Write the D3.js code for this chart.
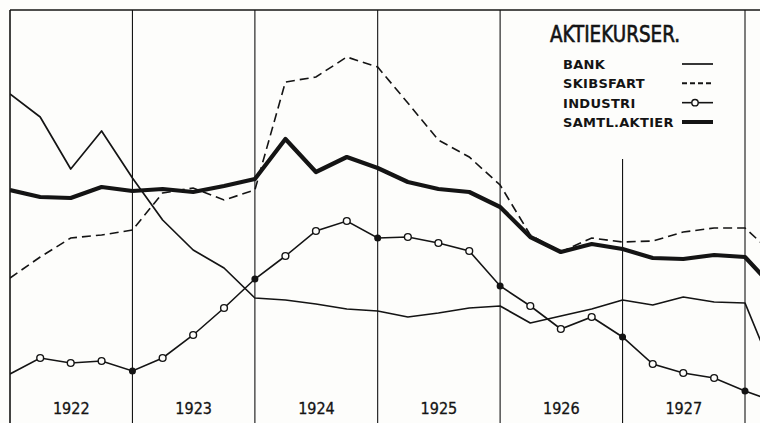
<!DOCTYPE html>
<html lang="da">
  <head>
    <meta charset="utf-8">
    <title>Aktiekurser</title>
    <script type="text/javascript" src="https://cdn.jsdelivr.net/npm/d3@7"></script>
    <style>
      body { margin: 0; background: #fdfdfb; }
      svg { display: block; }
    </style>
  </head>
  <body>
    <script type="text/javascript">
      var w = 760;
      var h = 423;

      // kvartaler, jan 1922 - apr 1928
      var quarters = ["1922-01", "1922-04", "1922-07", "1922-10",
                      "1923-01", "1923-04", "1923-07", "1923-10",
                      "1924-01", "1924-04", "1924-07", "1924-10",
                      "1925-01", "1925-04", "1925-07", "1925-10",
                      "1926-01", "1926-04", "1926-07", "1926-10",
                      "1927-01", "1927-04", "1927-07", "1927-10",
                      "1928-01", "1928-04"];
      var years = ["1922", "1923", "1924", "1925", "1926", "1927", "1928"];

      var bank = [163, 151.5, 125.5, 144.5, 121, 100, 85, 76, 61, 60, 58, 55.5, 54.5,
                  51.5, 53.5, 56, 57, 48.5, 52, 55.5, 60, 57.5, 61.5, 59, 58.5, 21.5];
      var skibsfart = [71, 81.5, 91, 92.5, 95, 113.5, 116, 110, 115, 169, 171.5, 181.5, 176.5,
                       158.5, 140, 131.5, 117.5, 92.5, 84, 91, 89, 89.5, 94, 96, 96, 82];
      var industri = [23, 31, 28.5, 29.5, 24.5, 31, 42.5, 56, 70.5, 82, 94.5, 99.5, 91,
                      91.5, 88.5, 84.5, 67, 57, 45.5, 51.5, 41.5, 28, 23.5, 21, 14.5, 9];
      var samtl = [115, 111.5, 111, 116.5, 114.5, 115.5, 114, 117, 120.5, 140.5, 124, 131.5, 126,
                   119, 115.5, 114, 106.5, 91.5, 84, 88, 85.5, 81, 80.5, 82.5, 81.5, 65];

      var legendLabels = ["BANK", "SKIBSFART", "INDUSTRI", "SAMTL.AKTIER"];

      var parseTime = d3.timeParse("%Y-%m");
      var parseYear = d3.timeParse("%Y");
      var dates = quarters.map(function (q) { return parseTime(q); });

      var xScale = d3.scaleTime()
                     .domain([parseYear("1922"), parseYear("1928")])
                     .range([10, 745]);
      var yScale = d3.scaleLinear()
                     .domain([0, 210])
                     .range([420, 0]);

      var ink = "#141414";
      var paper = "#fdfdfb";
      var narrow = "'Liberation Sans Narrow', 'DejaVu Sans Condensed', sans-serif";

      var svg = d3.select("body")
                  .append("svg")
                  .attr("width", w)
                  .attr("height", h);

      svg.append("rect")
         .attr("width", w)
         .attr("height", h)
         .attr("fill", paper);

      // ramme og aarsstreger
      svg.append("line")
         .attr("x1", 10).attr("x2", w)
         .attr("y1", 10).attr("y2", 10)
         .attr("stroke", ink).attr("stroke-width", 1.6);

      svg.selectAll("line.year")
         .data(years)
         .enter()
         .append("line")
         .attr("class", "year")
         .attr("x1", function (d) { return xScale(parseYear(d)); })
         .attr("x2", function (d) { return xScale(parseYear(d)); })
         .attr("y1", function (d) { return d === "1927" ? 159 : 10; })
         .attr("y2", h)
         .attr("stroke", ink)
         .attr("stroke-width", function (d) { return d === "1922" ? 1.6 : 1.1; });

      // aarstal
      var mid = years.slice(0, 6).map(function (y) {
        return new Date(+y, 6, 1);
      });
      var xAxis = d3.axisBottom(xScale)
                    .tickValues(mid)
                    .tickSize(0)
                    .tickFormat(d3.timeFormat("%Y"));
      var axisG = svg.append("g")
                     .attr("transform", "translate(0,400)")
                     .call(xAxis);
      axisG.select(".domain").remove();
      axisG.selectAll("text")
           .attr("font-family", narrow)
           .attr("font-size", "16px")
           .attr("fill", ink)
           .attr("stroke", ink)
           .attr("stroke-width", 0.3);

      svg.append("clipPath").attr("id", "plot")
         .append("rect")
         .attr("x", 10).attr("y", 10)
         .attr("width", w - 10).attr("height", h - 10);

      var line = d3.line()
                   .x(function (d, i) { return xScale(dates[i]); })
                   .y(function (d) { return yScale(d); });

      var plot = svg.append("g").attr("clip-path", "url(#plot)");

      plot.append("path")
          .datum(bank)
          .attr("d", line)
          .attr("fill", "none")
          .attr("stroke", ink)
          .attr("stroke-width", 1.7)
          .attr("stroke-linejoin", "round");

      plot.append("path")
          .datum(skibsfart)
          .attr("d", line)
          .attr("fill", "none")
          .attr("stroke", ink)
          .attr("stroke-width", 1.6)
          .attr("stroke-dasharray", "9,5");

      plot.append("path")
          .datum(industri)
          .attr("d", line)
          .attr("fill", "none")
          .attr("stroke", ink)
          .attr("stroke-width", 1.6);

      var indPoints = industri.map(function (v, i) {
        return { v: v, date: dates[i], onYear: i % 4 === 0 };
      }).slice(1);

      plot.selectAll("circle.ind")
          .data(indPoints)
          .enter()
          .append("circle")
          .attr("class", "ind")
          .attr("cx", function (d) { return xScale(d.date); })
          .attr("cy", function (d) { return yScale(d.v); })
          .attr("r", function (d) { return d.onYear ? 2.8 : 3.4; })
          .attr("fill", function (d) { return d.onYear ? ink : paper; })
          .attr("stroke", ink)
          .attr("stroke-width", 1.4);

      plot.append("path")
          .datum(samtl)
          .attr("d", line)
          .attr("fill", "none")
          .attr("stroke", ink)
          .attr("stroke-width", 4.2)
          .attr("stroke-linejoin", "round");

      // forklaring
      svg.append("text")
         .attr("x", 550)
         .attr("y", 42)
         .attr("font-family", narrow)
         .attr("font-size", "23px")
         .attr("textLength", 130)
         .attr("lengthAdjust", "spacingAndGlyphs")
         .attr("fill", ink)
         .attr("stroke", ink)
         .attr("stroke-width", 0.6)
         .text("AKTIEKURSER.");

      var legendY = d3.scalePoint()
                      .domain(legendLabels)
                      .range([69, 127]);

      svg.selectAll("text.leg")
         .data(legendLabels)
         .enter()
         .append("text")
         .attr("class", "leg")
         .attr("x", 563)
         .attr("y", function (d) { return legendY(d); })
         .attr("font-family", "'DejaVu Sans', sans-serif")
         .attr("font-size", "13px")
         .attr("font-weight", "bold")
         .attr("letter-spacing", "0.3px")
         .attr("fill", ink)
         .text(function (d) { return d; });

      var sw = svg.append("g");
      var sy = function (d) { return legendY(d) - 5; };
      sw.append("line")
        .attr("x1", 682).attr("x2", 713)
        .attr("y1", sy("BANK")).attr("y2", sy("BANK"))
        .attr("stroke", ink).attr("stroke-width", 1.7);
      sw.append("line")
        .attr("x1", 682).attr("x2", 713)
        .attr("y1", sy("SKIBSFART")).attr("y2", sy("SKIBSFART"))
        .attr("stroke", ink).attr("stroke-width", 2)
        .attr("stroke-dasharray", "5,3");
      sw.append("line")
        .attr("x1", 682).attr("x2", 713)
        .attr("y1", sy("INDUSTRI")).attr("y2", sy("INDUSTRI"))
        .attr("stroke", ink).attr("stroke-width", 1.6);
      sw.append("circle")
        .attr("cx", 695).attr("cy", sy("INDUSTRI"))
        .attr("r", 3.2)
        .attr("fill", paper).attr("stroke", ink).attr("stroke-width", 1.4);
      sw.append("line")
        .attr("x1", 682).attr("x2", 713)
        .attr("y1", sy("SAMTL.AKTIER")).attr("y2", sy("SAMTL.AKTIER"))
        .attr("stroke", ink).attr("stroke-width", 4);
    </script>
  </body>
</html>
